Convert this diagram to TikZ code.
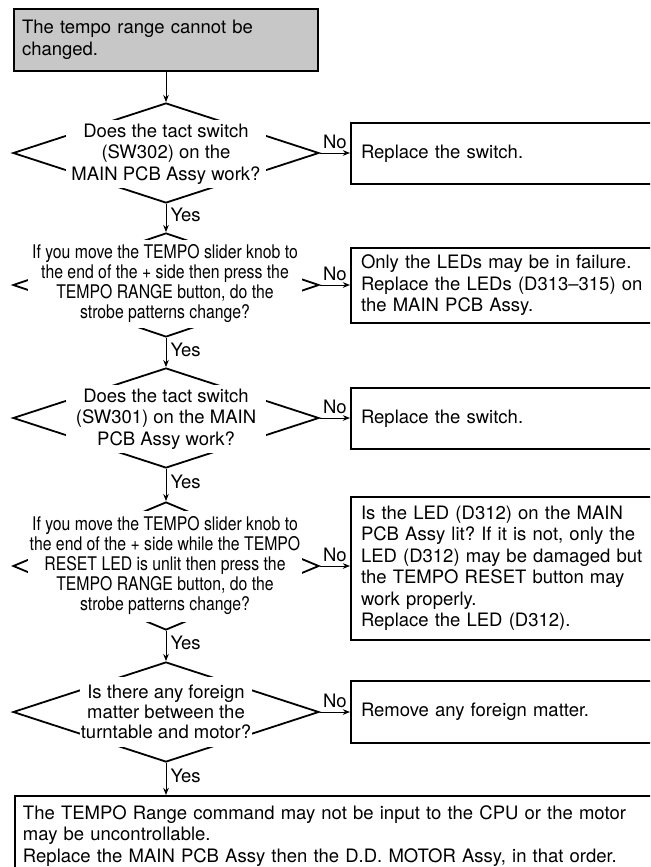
\documentclass[tikz,border=0pt]{standalone}
\usepackage{fontspec}
\setmainfont{TeX Gyre Heros}
\newfontfamily\narrowfont[FakeStretch=0.84]{TeX Gyre Heros}
\usetikzlibrary{shapes.geometric,arrows.meta}
\frenchspacing
\begin{document}
\begin{tikzpicture}[x=0.5pt,y=-0.5pt,
  every node/.style={font=\fontsize{9.25pt}{10.75pt}\selectfont},
  dia/.style={draw, diamond, line width=0.9pt, inner sep=0pt, minimum width=153pt},
  dtext/.style={fill=white, inner sep=0pt, align=center},
  narrowtext/.style={font=\narrowfont\fontsize{9.4pt}{10pt}\selectfont},
  rbox/.style={draw, line width=1pt, anchor=west, inner xsep=5pt, inner ysep=0pt, text width=160pt, align=left},
  arr/.style={-{Stealth[length=3.6pt,width=2.8pt]}, line width=0.5pt},
  lab/.style={inner sep=2pt}
]
\useasboundingbox (0,0) rectangle (650,867);
\clip (0,0) rectangle (650,867);

% start box
\node[draw, line width=1.2pt, fill=black!22, minimum width=152pt, minimum height=31pt,
      inner xsep=4pt, text width=144pt, align=left] (start) at (166,40)
  {The tempo range cannot be\\changed.};

% diamonds
\node[dia, minimum height=50pt] (d1) at (166,153) {};
\node[dtext, minimum width=100pt, minimum height=34pt] (t1) at (166,154)
  {Does the tact switch\\(SW302) on the\\MAIN PCB Assy work?};

\node[dia, minimum height=52pt] (d2) at (166,285) {};
\node[dtext, narrowtext, minimum width=137pt, minimum height=44pt] (t2) at (165,284)
  {If you move the TEMPO slider knob to\\the end of the + side then press the\\TEMPO RANGE button, do the\\strobe patterns change?};

\node[dia, minimum height=50pt] (d3) at (166,418) {};
\node[dtext, minimum width=100pt, minimum height=34pt] (t3) at (166,419)
  {Does the tact switch\\(SW301) on the MAIN\\PCB Assy work?};

\node[dia, minimum height=64pt] (d4) at (166,566) {};
\node[dtext, narrowtext, minimum width=137pt, minimum height=55.5pt] (t4) at (165,566)
  {If you move the TEMPO slider knob to\\the end of the + side while the TEMPO\\RESET LED is unlit then press the\\TEMPO RANGE button, do the\\strobe patterns change?};

\node[dia, minimum height=50pt] (d5) at (166,712) {};
\node[dtext, minimum width=86pt, minimum height=35pt, font=\fontsize{9.25pt}{10pt}\selectfont] (t5) at (166,712)
  {Is there any foreign\\matter between the\\turntable and motor?};

% right boxes
\node[rbox, minimum height=30.5pt] (b1) at (350,153.5) {Replace the switch.};
\node[rbox, minimum height=37.5pt] (b2) at (350,285.5)
  {Only the LEDs may be in failure.\\Replace the LEDs (D313--315) on\\the MAIN PCB Assy.};
\node[rbox, minimum height=30.5pt] (b3) at (350,418.5) {Replace the switch.};
\node[rbox, minimum height=71.5pt] (b4) at (350,568.5)
  {Is the LED (D312) on the MAIN\\PCB Assy lit? If it is not, only the\\LED (D312) may be damaged but\\the TEMPO RESET button may\\work properly.\\Replace the LED (D312).};
\node[rbox, minimum height=31pt] (b5) at (350,712) {Remove any foreign matter.};

% final box
\node[draw, line width=1pt, anchor=north west, minimum height=40pt, text width=320pt,
      inner xsep=4pt, align=left] (final) at (14,795)
  {The TEMPO Range command may not be input to the CPU or the motor\\may be uncontrollable.\\Replace the MAIN PCB Assy then the D.D. MOTOR Assy, in that order.};

% connectors
\draw[arr] (start.south) -- (d1.north);
\draw[arr] (d1.south) -- node[lab, right, pos=0.4] {Yes} (d2.north);
\draw[arr] (d2.south) -- node[lab, right, pos=0.4] {Yes} (d3.north);
\draw[arr] (d3.south) -- node[lab, right, pos=0.4] {Yes} (d4.north);
\draw[arr] (d4.south) -- node[lab, right, pos=0.4] {Yes} (d5.north);
\draw[arr] (d5.south) -- node[lab, right, pos=0.4] {Yes} (d5.south |- final.north);

\draw[arr] (d1.east) -- node[lab, above, pos=0.5] {No} (d1.east -| b1.west);
\draw[arr] (d2.east) -- node[lab, above, pos=0.5] {No} (d2.east -| b2.west);
\draw[arr] (d3.east) -- node[lab, above, pos=0.5] {No} (d3.east -| b3.west);
\draw[arr] (d4.east) -- node[lab, above, pos=0.5] {No} (d4.east -| b4.west);
\draw[arr] (d5.east) -- node[lab, above, pos=0.5] {No} (d5.east -| b5.west);
\end{tikzpicture}
\end{document}
